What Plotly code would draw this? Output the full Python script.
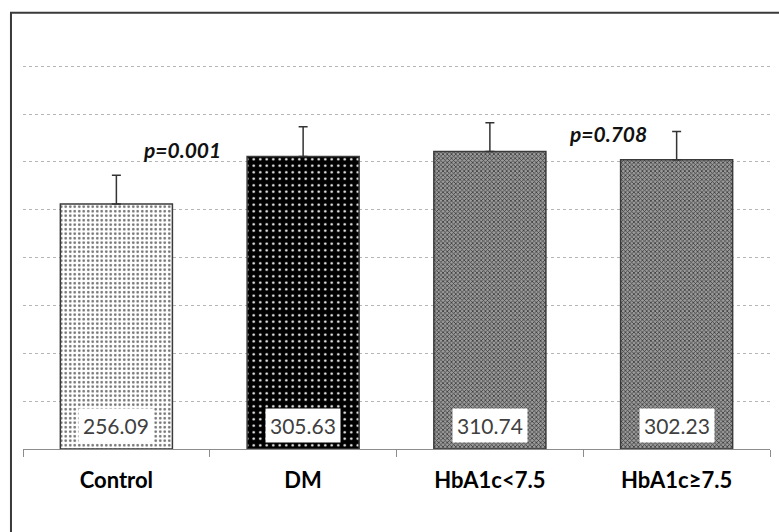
import plotly.graph_objects as go

categories = ["Control", "DM", "HbA1c<7.5", "HbA1c≥7.5"]
means = [256.09, 305.63, 310.74, 302.23]
sds = [30.0, 31.0, 30.0, 29.5]
value_labels = ["256.09", "305.63", "310.74", "302.23"]
p_texts = ["p=0.001", "p=0.708"]
p_x = [0.35, 2.63]
p_y = [313, 330]

fill_bg = ["#ffffff", "#000000", "#9a9a9a", "#9a9a9a"]
fill_fg = ["#707070", "#ffffff", "#3a3a3a", "#3a3a3a"]
shapes_p = [".", ".", "x", "x"]
sizes_p = [4.5, 6.5, 3, 3]
solid_p = [0.28, 0.12, 0.45, 0.45]

fig = go.Figure()
for i, c in enumerate(categories):
    fig.add_trace(go.Bar(
        x=[c], y=[means[i]],
        marker=dict(
            color=fill_bg[i],
            line=dict(color="#3a3a3a", width=1.5),
            pattern=dict(shape=shapes_p[i], fgcolor=fill_fg[i], bgcolor=fill_bg[i],
                         size=sizes_p[i], solidity=solid_p[i], fillmode="replace"),
        ),
        error_y=dict(type="data", symmetric=False, array=[sds[i]], arrayminus=[0],
                     color="#333333", thickness=1.5, width=4.5),
        width=0.6,
        showlegend=False,
        hoverinfo="skip",
    ))

annotations = []
for i, c in enumerate(categories):
    annotations.append(dict(
        x=c, y=0, xref="x", yref="y", text=value_labels[i], showarrow=False,
        yanchor="bottom", yshift=6, bgcolor="#ffffff", borderpad=4,
        font=dict(family="Lato, 'Open Sans', sans-serif", size=21, color="#404040"),
    ))
for i, t in enumerate(p_texts):
    annotations.append(dict(
        x=p_x[i], y=p_y[i], xref="x", yref="y", text="<b><i>" + t + "</i></b>",
        showarrow=False, xanchor="center", yanchor="middle",
        font=dict(family="Lato, 'Open Sans', sans-serif", size=21, color="#111111"),
    ))

fig.update_layout(
    width=779, height=532,
    margin=dict(l=23, r=9, t=65, b=83),
    paper_bgcolor="#ffffff", plot_bgcolor="#ffffff",
    annotations=annotations,
    bargap=0.4,
    shapes=[dict(type="path", xref="paper", yref="paper",
                 path="M -0.0161,-0.3 L -0.0161,1.136 L 1.05,1.136",
                 line=dict(color="#3a3a3a", width=2))],
)
fig.update_xaxes(
    type="category", showline=True, linecolor="#8c8c8c", linewidth=1.2,
    ticks="outside", tickson="boundaries", ticklen=7, tickcolor="#8c8c8c",
    showgrid=False, ticklabelstandoff=11,
    tickfont=dict(family="Lato, 'Open Sans', sans-serif", size=22, color="#000000"),
    tickvals=categories, ticktext=["<b>" + c + "</b>" for c in categories],
)
fig.update_yaxes(
    range=[0, 401.2], tick0=0, dtick=50, showgrid=True, gridcolor="#b5b5b5", griddash="dot",
    gridwidth=1, showticklabels=False, zeroline=False, showline=False, ticks="",
)
fig.write_html("out.html", config={"displayModeBar": False, "staticPlot": True},
               post_script="document.body.style.margin='0';document.body.style.overflow='hidden';")
